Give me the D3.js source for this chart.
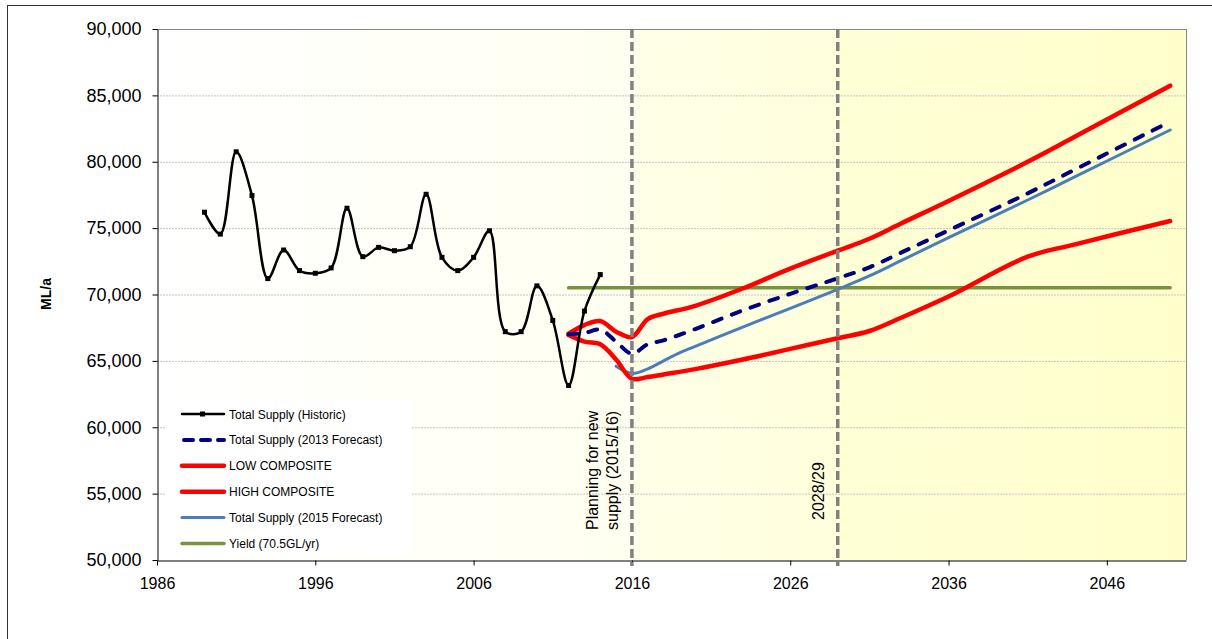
<!DOCTYPE html>
<html>
<head>
<meta charset="utf-8">
<script src="https://cdn.jsdelivr.net/npm/d3@7"></script>
<style>
  html, body { margin: 0; padding: 0; background: #ffffff; }
  svg { display: block; font-family: Arial, "Liberation Sans", sans-serif; }
</style>
</head>
<body>
<svg id="chart" width="1212" height="639"></svg>
<script>
// ---------------- DATA ----------------
const histYears = [1989,1990,1991,1992,1993,1994,1995,1996,1997,1998,1999,2000,2001,2002,2003,2004,2005,2006,2007,2008,2009,2010,2011,2012,2013,2014];
const histValues = [76200,74550,80750,77450,71200,73350,71800,71600,72000,76500,72850,73550,73300,73600,77550,72800,71800,72800,74800,67200,67200,70650,68050,63150,68750,71500];

const fcYears = [2012,2013,2014,2015,2016,2017,2018,2020,2023,2026,2029,2031,2033,2036,2041,2044,2050];
const forecast2013 = [67000,67100,67350,66450,65550,66250,66550,67400,68800,70050,71220,72050,73150,74830,77620,79420,83020];
const lowComposite = [66950,66450,66250,65100,63650,63780,63980,64380,65100,65900,66700,67250,68250,69850,72850,73780,75540];
const highComposite = [67050,67700,68000,67200,66800,68150,68550,69150,70450,71950,73300,74200,75350,77050,80000,81900,85730];

const fc2015Years = [2015,2016,2017,2018,2019,2020,2023,2026,2029,2031,2033,2036,2041,2044,2050];
const forecast2015 = [64600,64060,64400,65000,65600,66100,67550,68950,70390,71400,72550,74280,77120,78880,82390];

const yieldYears = [2012,2050];
const yieldValues = [70500,70500];

const yTicks = [50000,55000,60000,65000,70000,75000,80000,85000,90000];
const xTicks = [1986,1996,2006,2016,2026,2036,2046];

const markerYears = [2016, 2029];
const markerLabels = [["Planning for new","supply (2015/16)"],["2028/29"]];

const legendLabels = ["Total Supply (Historic)","Total Supply (2013 Forecast)","LOW COMPOSITE","HIGH COMPOSITE","Total Supply (2015 Forecast)","Yield (70.5GL/yr)"];

// ---------------- CHART ----------------
const svg = d3.select("#chart");
const L = 157, R = 1186, T = 29, B = 560;
const x = d3.scaleLinear().domain([1986, 2051]).range([L, R]);
const y = d3.scaleLinear().domain([50000, 90000]).range([B, T]);

// outer frame
svg.append("rect").attr("x", 7.5).attr("y", 5.5).attr("width", 1240).attr("height", 700)
  .attr("fill", "none").attr("stroke", "#333").attr("stroke-width", 1);

// background gradients
const defs = svg.append("defs");
function grad(id, c1, c2) {
  const g = defs.append("linearGradient").attr("id", id).attr("x1", "0%").attr("x2", "100%").attr("y1", "0%").attr("y2", "0%");
  g.append("stop").attr("offset", "0%").attr("stop-color", c1);
  g.append("stop").attr("offset", "100%").attr("stop-color", c2);
}
grad("gA", "#ffffff", "#fffff0");
grad("gB", "#ffffe8", "#ffffdc");
grad("gC", "#ffffd6", "#ffffcc");
const bgRegions = [[1986, 2016, "gA"], [2016, 2029, "gB"], [2029, 2051, "gC"]];
svg.append("g").selectAll("rect").data(bgRegions).join("rect")
  .attr("x", d => x(d[0])).attr("y", T).attr("width", d => x(d[1]) - x(d[0])).attr("height", B - T)
  .attr("fill", d => `url(#${d[2]})`);

// grid lines
svg.append("g").selectAll("line").data(yTicks.filter(v => v > 50000 && v < 90000)).join("line")
  .attr("x1", L).attr("x2", R).attr("y1", d => y(d) + 0.5).attr("y2", d => y(d) + 0.5)
  .attr("stroke", "#c4c4c4").attr("stroke-width", 1).attr("stroke-dasharray", "2,1");

// plot border top/right
svg.append("line").attr("x1", L).attr("x2", R).attr("y1", T + 0.5).attr("y2", T + 0.5).attr("stroke", "#868686");
svg.append("line").attr("x1", R + 0.5).attr("x2", R + 0.5).attr("y1", T).attr("y2", B).attr("stroke", "#868686");

// axes
const yAxis = svg.append("g").attr("transform", `translate(${L + 0.5},0)`)
  .call(d3.axisLeft(y).tickValues(yTicks).tickSize(5).tickSizeOuter(0).tickPadding(11).tickFormat(d3.format(",")));
yAxis.selectAll("text").attr("font-size", 18).attr("fill", "#000").attr("font-family", "Arial, 'Liberation Sans', sans-serif");
yAxis.selectAll("line,path").attr("stroke", "#000");

const xAxis = svg.append("g").attr("transform", `translate(0,${B + 0.5})`)
  .call(d3.axisBottom(x).tickValues(xTicks).tickSize(5).tickSizeOuter(0).tickPadding(12).tickFormat(d3.format("d")));
xAxis.selectAll("text").attr("font-size", 16).attr("fill", "#000").attr("font-family", "Arial, 'Liberation Sans', sans-serif");
xAxis.selectAll("line,path").attr("stroke", "#000");

// y axis title
svg.append("text").attr("transform", "translate(51,294) rotate(-90)").attr("text-anchor", "middle")
  .attr("font-size", 14).attr("font-weight", "bold").text("ML/a");

// series
const fcCurve = d3.curveCatmullRom.alpha(0.5);
function drawLine(xs, vs, color, width, dash, curve) {
  const pts = xs.map((yr, i) => [yr, vs[i]]);
  const p = svg.append("path").datum(pts)
    .attr("d", d3.line().x(d => x(d[0])).y(d => y(d[1])).curve(curve))
    .attr("fill", "none").attr("stroke", color).attr("stroke-width", width)
    .attr("stroke-linejoin", "round").attr("stroke-linecap", "round");
  if (dash) p.attr("stroke-dasharray", dash);
  return p;
}
drawLine(yieldYears, yieldValues, "#77933c", 3.5, null, d3.curveLinear);
drawLine(fc2015Years, forecast2015, "#4a7ebb", 3, null, fcCurve);
drawLine(fcYears, lowComposite, "#ff0000", 4.5, null, fcCurve);
drawLine(fcYears, highComposite, "#ff0000", 4.5, null, fcCurve);
drawLine(fcYears, forecast2013, "#000080", 4, "9,11", fcCurve);
drawLine(histYears, histValues, "#000000", 2.5, null, d3.curveCatmullRom.alpha(0.5));
svg.append("g").selectAll("rect").data(histYears.map((yr, i) => [yr, histValues[i]])).join("rect")
  .attr("x", d => x(d[0]) - 2.5).attr("y", d => y(d[1]) - 2.5).attr("width", 5).attr("height", 5).attr("fill", "#000");

// vertical markers
svg.append("g").selectAll("line").data(markerYears).join("line")
  .attr("x1", d => x(d)).attr("x2", d => x(d)).attr("y1", T).attr("y2", B + 6)
  .attr("stroke", "#808080").attr("stroke-width", 3.5).attr("stroke-dasharray", "9,4");

// marker labels
const ml1 = markerLabels[0];
ml1.forEach((t, i) => {
  svg.append("text").attr("transform", `translate(${x(markerYears[0]) - 34 + i * 20},530) rotate(-90)`)
    .attr("font-size", 16).attr("fill", "#000").text(t);
});
svg.append("text").attr("transform", `translate(${x(markerYears[1]) - 14},520) rotate(-90)`)
  .attr("font-size", 16).attr("fill", "#000").text(markerLabels[1][0]);

// legend
svg.append("rect").attr("x", 165).attr("y", 399).attr("width", 246).attr("height", 158).attr("fill", "#ffffff");
const legStyles = [
  {c: "#000000", w: 2.5, dash: null, marker: true},
  {c: "#000080", w: 4, dash: "9,8"},
  {c: "#ff0000", w: 4.5, dash: null},
  {c: "#ff0000", w: 4.5, dash: null},
  {c: "#4a7ebb", w: 3, dash: null},
  {c: "#77933c", w: 3.5, dash: null}
];
const leg = svg.append("g");
legendLabels.forEach((lab, i) => {
  const cy = 414 + i * 25.9;
  const s = legStyles[i];
  const ln = leg.append("line").attr("x1", 182).attr("x2", 224).attr("y1", cy).attr("y2", cy)
    .attr("stroke", s.c).attr("stroke-width", s.w).attr("stroke-linecap", "round");
  if (s.dash) ln.attr("stroke-dasharray", s.dash).attr("x1", 184);
  if (s.marker) leg.append("rect").attr("x", 200).attr("y", cy - 2.5).attr("width", 5).attr("height", 5).attr("fill", "#000");
  leg.append("text").attr("x", 229).attr("y", cy + 4.5).attr("font-size", 12).attr("fill", "#000").text(lab);
});
</script>
</body>
</html>
